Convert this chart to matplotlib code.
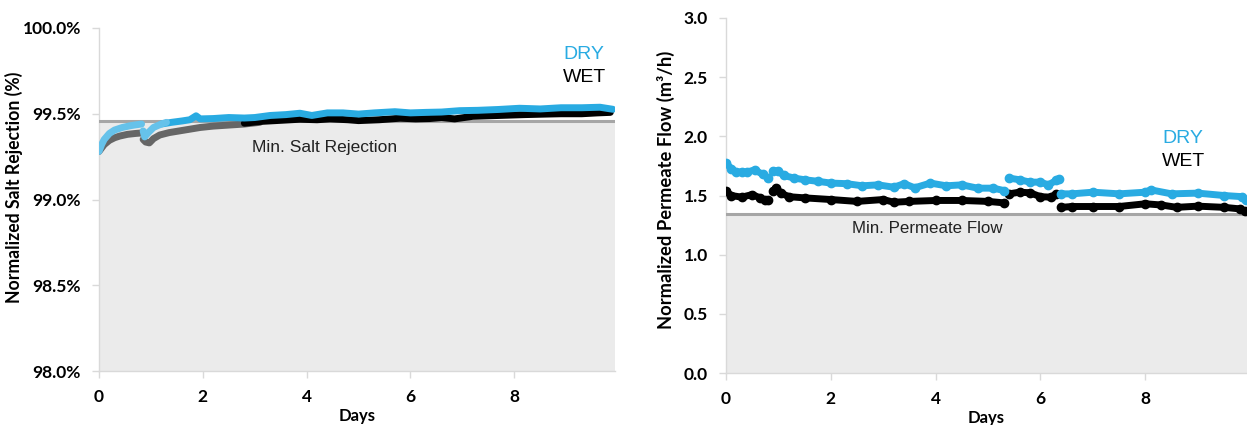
import matplotlib
matplotlib.use("Agg")
import matplotlib.pyplot as plt
from matplotlib.ticker import FuncFormatter, MultipleLocator

# ---------------- data: left panel (salt rejection, %) ----------------
dry_light_a_x = [0, 0.05, 0.1, 0.2, 0.3, 0.45, 0.6, 0.7, 0.82]
dry_light_a_y = [99.28, 99.32, 99.35, 99.385, 99.405, 99.42, 99.43, 99.435, 99.44]
dry_light_b_x = [0.85, 0.88, 0.95, 1.05, 1.2, 1.3]
dry_light_b_y = [99.40, 99.365, 99.39, 99.42, 99.44, 99.45]
dry_main_x = [1.2, 1.4, 1.6, 1.75, 1.87, 1.95, 2.2, 2.5, 2.8, 3.0, 3.3, 3.6, 3.87,
              4.1, 4.4, 4.7, 5.0, 5.3, 5.7, 6.0, 6.3, 6.6, 6.95, 7.3, 7.7, 8.1,
              8.5, 8.9, 9.3, 9.65, 9.9]
dry_main_y = [99.44, 99.45, 99.458, 99.465, 99.488, 99.47, 99.472, 99.478, 99.475,
              99.478, 99.49, 99.495, 99.503, 99.49, 99.505, 99.505, 99.498, 99.505,
              99.512, 99.505, 99.508, 99.51, 99.518, 99.52, 99.525, 99.532, 99.528,
              99.535, 99.535, 99.538, 99.526]
wet_gray_a_x = [0, 0.1, 0.2, 0.3, 0.4, 0.55, 0.7, 0.82]
wet_gray_a_y = [99.28, 99.32, 99.345, 99.36, 99.37, 99.38, 99.385, 99.388]
wet_gray_b_x = [0.85, 0.9, 0.97, 1.05, 1.17, 1.35, 1.55, 1.75, 1.95, 2.2, 2.5, 2.8, 3.1]
wet_gray_b_y = [99.35, 99.335, 99.33, 99.355, 99.376, 99.39, 99.40, 99.41, 99.42,
                99.428, 99.434, 99.44, 99.45]
wet_black_x = [2.8, 3.1, 3.4, 3.87, 4.2, 4.45, 4.8, 5.0, 5.4, 5.8, 6.1, 6.37, 6.6,
               6.85, 7.2, 7.7, 8.2, 8.6, 8.9, 9.3, 9.6, 9.85]
wet_black_y = [99.445, 99.455, 99.46, 99.468, 99.465, 99.47, 99.465, 99.46, 99.465,
               99.474, 99.47, 99.472, 99.478, 99.47, 99.485, 99.49, 99.495, 99.498,
               99.50, 99.50, 99.505, 99.508]
min_salt_rejection = 99.46

# ---------------- data: right panel (permeate flow, m3/h) ----------------
flow_dry_segments = [
    ([0.0, 0.1, 0.2, 0.3, 0.4, 0.55, 0.7, 0.8],
     [1.777, 1.726, 1.698, 1.70, 1.698, 1.717, 1.678, 1.65]),
    ([0.9, 1.0, 1.1, 1.3, 1.5, 1.75, 2.0, 2.3, 2.6, 2.9, 3.2, 3.4, 3.6, 3.9,
      4.2, 4.5, 4.8, 5.1, 5.3],
     [1.71, 1.706, 1.67, 1.647, 1.633, 1.62, 1.605, 1.60, 1.582, 1.59, 1.57, 1.60,
      1.565, 1.605, 1.582, 1.59, 1.562, 1.562, 1.542]),
    ([5.4, 5.6, 5.8, 6.0, 6.15, 6.3, 6.35],
     [1.647, 1.633, 1.613, 1.613, 1.59, 1.627, 1.64]),
    ([6.4, 6.6, 7.0, 7.5, 8.0, 8.1, 8.5, 9.0, 9.5, 9.85, 9.92],
     [1.514, 1.514, 1.528, 1.514, 1.528, 1.548, 1.514, 1.52, 1.50, 1.49, 1.46]),
]
flow_wet_segments = [
    ([0.0, 0.1, 0.3, 0.5, 0.65, 0.75, 0.8],
     [1.537, 1.50, 1.486, 1.508, 1.48, 1.458, 1.463]),
    ([0.9, 0.95, 1.05, 1.2, 1.5, 2.0, 2.5, 3.0, 3.2, 3.5, 4.0, 4.5, 5.0, 5.3],
     [1.537, 1.565, 1.52, 1.49, 1.48, 1.466, 1.45, 1.466, 1.443, 1.45, 1.458,
      1.458, 1.45, 1.438]),
    ([5.4, 5.6, 5.8, 6.0, 6.2, 6.3],
     [1.514, 1.528, 1.523, 1.49, 1.486, 1.514]),
    ([6.4, 6.6, 7.0, 7.5, 8.0, 8.3, 8.6, 9.0, 9.5, 9.8, 9.9],
     [1.40, 1.407, 1.407, 1.407, 1.43, 1.42, 1.40, 1.41, 1.40, 1.387, 1.367]),
]
min_permeate_flow = 1.345

# ---------------- style ----------------
BLUE = "#29abe2"
LIGHT_BLUE = "#66c2ea"
GRAY = "#666666"
FILL = "#ebebeb"
MINLINE = "#a6a6a6"
SPINE = "#d9d9d9"
TICKFONT = ["Lato", "DejaVu Sans"]
TEXTFONT = ["Liberation Sans", "DejaVu Sans"]

fig = plt.figure(figsize=(12.47, 4.25), dpi=100)
axL = fig.add_axes([99 / 1247, 54 / 425, 516 / 1247, 343 / 425])
axR = fig.add_axes([726 / 1247, 52 / 425, 521 / 1247, 355 / 425])


def style_axes(ax):
    for s in ("top", "right"):
        ax.spines[s].set_visible(False)
    for s in ("left", "bottom"):
        ax.spines[s].set_color(SPINE)
        ax.spines[s].set_linewidth(1.0)
        ax.spines[s].set_zorder(0.5)
    ax.tick_params(axis="both", colors=SPINE, length=5, width=1.0, direction="out")
    ax.tick_params(axis="x", pad=8)
    ax.tick_params(axis="y", pad=8)
    for lab in ax.get_xticklabels() + ax.get_yticklabels():
        lab.set_color("black")
        lab.set_family(TICKFONT)
        lab.set_fontweight("bold")
        lab.set_fontsize(12.5)


# ---- left panel ----
axL.set_xlim(0, 9.94)
axL.set_ylim(98.0, 100.0)
axL.axhspan(98.0, min_salt_rejection, color=FILL, zorder=0, lw=0)
axL.axhline(min_salt_rejection, color=MINLINE, lw=2.2, zorder=1)
kw = dict(lw=5, solid_capstyle="round", solid_joinstyle="round", zorder=3)
axL.plot(wet_gray_a_x, wet_gray_a_y, color=GRAY, **kw)
axL.plot(wet_gray_b_x, wet_gray_b_y, color=GRAY, **kw)
axL.plot(wet_black_x, wet_black_y, color="black", **kw)
axL.plot(dry_light_a_x, dry_light_a_y, color=LIGHT_BLUE, **kw)
axL.plot(dry_main_x, dry_main_y, color=BLUE, **kw)
axL.plot(dry_light_b_x, dry_light_b_y, color=LIGHT_BLUE, **kw)
axL.xaxis.set_major_locator(MultipleLocator(2))
axL.yaxis.set_major_locator(MultipleLocator(0.5))
axL.yaxis.set_major_formatter(FuncFormatter(lambda v, p: f"{v:.1f}%"))
style_axes(axL)
axL.set_xlabel("Days", family=TICKFONT, fontweight="bold", fontsize=12, labelpad=2)
axL.set_ylabel("Normalized Salt Rejection (%)", family=TICKFONT, fontweight="bold",
               fontsize=12.7)
axL.yaxis.set_label_coords(-0.147, 0.535)
axL.text(2.95, 99.306, "Min. Salt Rejection", family=TEXTFONT, fontsize=12.5,
         va="center", ha="left", color="#222222")
axL.text(8.94, 99.843, "DRY", family=TEXTFONT, fontsize=14, va="center", ha="left",
         color=BLUE)
axL.text(8.94, 99.71, "WET", family=TEXTFONT, fontsize=14, va="center", ha="left",
         color="black")

# ---- right panel ----
axR.set_xlim(0, 9.94)
axR.set_ylim(0.0, 3.0)
axR.axhspan(0.0, min_permeate_flow, color=FILL, zorder=0, lw=0)
axR.axhline(min_permeate_flow, color=MINLINE, lw=2.2, zorder=1)
kw2 = dict(lw=5, marker="o", ms=6, solid_capstyle="round",
           solid_joinstyle="round", zorder=3)
for xs, ys in flow_wet_segments:
    axR.plot(xs, ys, color="black", mec="black", **kw2)
for xs, ys in flow_dry_segments:
    axR.plot(xs, ys, color=BLUE, mec=BLUE, **kw2)
axR.xaxis.set_major_locator(MultipleLocator(2))
axR.yaxis.set_major_locator(MultipleLocator(0.5))
axR.yaxis.set_major_formatter(FuncFormatter(lambda v, p: f"{v:.1f}"))
style_axes(axR)
axR.set_xlabel("Days", family=TICKFONT, fontweight="bold", fontsize=12, labelpad=2)
axR.set_ylabel("Normalized Permeate Flow (m³/h)", family=TICKFONT, fontweight="bold",
               fontsize=13.2)
axR.yaxis.set_label_coords(-0.098, 0.515)
axR.text(2.40, 1.22, "Min. Permeate Flow", family=TEXTFONT, fontsize=12.2,
         va="center", ha="left", color="#222222")
axR.text(8.32, 1.978, "DRY", family=TEXTFONT, fontsize=14, va="center", ha="left",
         color=BLUE)
axR.text(8.32, 1.784, "WET", family=TEXTFONT, fontsize=14, va="center", ha="left",
         color="black")

fig.savefig("out.png", dpi=100)
